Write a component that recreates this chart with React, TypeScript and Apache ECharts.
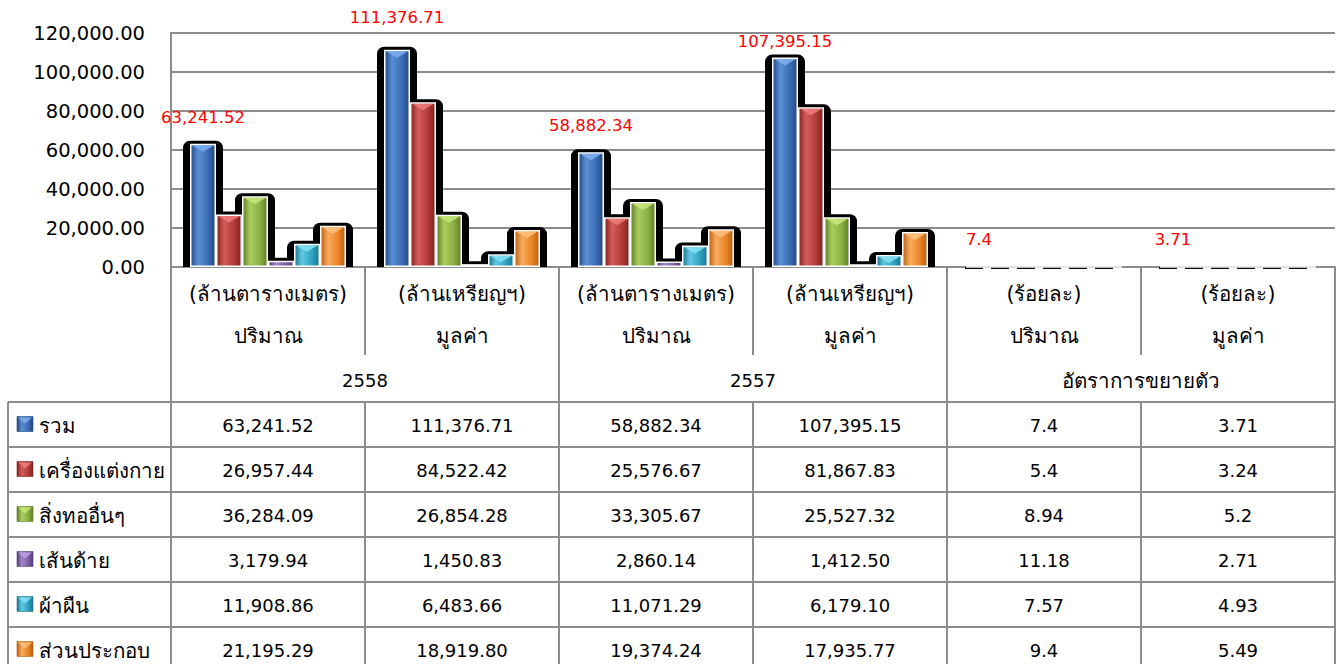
import React, { useEffect, useRef } from "react";
import * as echarts from "echarts";

const categories = ["ปริมาณ", "มูลค่า", "ปริมาณ", "มูลค่า", "ปริมาณ", "มูลค่า"];
const units = ["(ล้านตารางเมตร)", "(ล้านเหรียญฯ)", "(ล้านตารางเมตร)", "(ล้านเหรียญฯ)", "(ร้อยละ)", "(ร้อยละ)"];
const groups = ["2558", "2557", "อัตราการขยายตัว"];
const seriesNames = ["รวม", "เครื่องแต่งกาย", "สิ่งทออื่นๆ", "เส้นด้าย", "ผ้าผืน", "ส่วนประกอบ"];

const total = [63241.52, 111376.71, 58882.34, 107395.15, 7.4, 3.71];
const apparel = [26957.44, 84522.42, 25576.67, 81867.83, 5.4, 3.24];
const otherTextiles = [36284.09, 26854.28, 33305.67, 25527.32, 8.94, 5.2];
const yarn = [3179.94, 1450.83, 2860.14, 1412.5, 11.18, 2.71];
const fabric = [11908.86, 6483.66, 11071.29, 6179.1, 7.57, 4.93];
const parts = [21195.29, 18919.8, 19374.24, 17935.77, 9.4, 5.49];

const seriesValues = [total, apparel, otherTextiles, yarn, fabric, parts];

const yTicks = { min: 0, max: 120000, interval: 20000 };

const palette = [
  { dark: "#24497f", light: "#5a8fd6", base: "#3b6db4", tip: "#7fb0ee" },
  { dark: "#80211f", light: "#d45c5a", base: "#b23a38", tip: "#ee7d7b" },
  { dark: "#5f7d25", light: "#aacd5e", base: "#8aaf42", tip: "#c6e77c" },
  { dark: "#533b78", light: "#a187c8", base: "#7b5fa6", tip: "#bba3e2" },
  { dark: "#1b7690", light: "#62c9e2", base: "#2ea3c1", tip: "#86e2f5" },
  { dark: "#b9600f", light: "#f8ac5e", base: "#ea8526", tip: "#ffc27f" },
];

const FONT = 'Tahoma, "DejaVu Sans", "Noto Sans", sans-serif';
const LINE = "#8c8c8c";
const THAI_SIZE = 20.5;
const NUM_SIZE = 18;

const grad = (i: number, vertical = false) =>
  new echarts.graphic.LinearGradient(0, 0, vertical ? 0 : 1, vertical ? 1 : 0, [
    { offset: 0, color: palette[i].dark },
    { offset: 0.3, color: palette[i].light },
    { offset: 0.7, color: palette[i].base },
    { offset: 1, color: palette[i].dark },
  ]);

const fmt2 = (v: number) =>
  v.toLocaleString("en-US", { minimumFractionDigits: 2, maximumFractionDigits: 2 });
const fmtLabel = (v: number) => v.toLocaleString("en-US", { maximumFractionDigits: 2 });
const fmtCell = (v: number, c: number) => (c < 4 ? fmt2(v) : String(v));

// manual label nudges of the red "total" labels (as placed in the source chart)
const totalLabelOffsets = [[0, 0], [0, -6], [0, 0], [0, 10], [0, 0], [0, 0]];

// layout
const GRID_LEFT = 171;
const GRID_RIGHT_X = 1335;
const GRID_TOP = 33;
const AXIS_Y = 267;
const COL_W = (GRID_RIGHT_X - GRID_LEFT) / categories.length;
const TABLE_LEFT = 8;
const HEADER2_Y = 355;
const BODY_Y = 402;
const ROW_H = 45;
const BAR_W = 26;

function buildGraphics() {
  const els: any[] = [];
  const line = (x1: number, y1: number, x2: number, y2: number) =>
    els.push({
      type: "line",
      shape: { x1, y1, x2, y2 },
      style: { stroke: LINE, lineWidth: 2 },
      z: 10,
    });
  const bottom = BODY_Y + ROW_H * seriesNames.length;
  for (let c = 0; c <= categories.length; c++) {
    const x = GRID_LEFT + COL_W * c;
    line(x, AXIS_Y, x, HEADER2_Y);
  }
  for (let g = 0; g <= groups.length; g++) {
    const x = GRID_LEFT + COL_W * 2 * g;
    line(x, HEADER2_Y, x, BODY_Y);
  }
  line(TABLE_LEFT, BODY_Y, TABLE_LEFT, bottom);
  for (let c = 0; c <= categories.length; c++) {
    const x = GRID_LEFT + COL_W * c;
    line(x, BODY_Y, x, bottom);
  }
  for (let r = 0; r <= seriesNames.length; r++) {
    const y = BODY_Y + ROW_H * r;
    line(TABLE_LEFT, y, GRID_RIGHT_X, y);
  }
  groups.forEach((g, i) => {
    els.push({
      type: "text",
      x: GRID_LEFT + COL_W * (2 * i + 1),
      y: (HEADER2_Y + BODY_Y) / 2 + 2,
      style: {
        text: g,
        fill: "#000",
        font: `${/^\d+$/.test(g) ? NUM_SIZE : THAI_SIZE}px ${FONT}`,
        align: "center",
        verticalAlign: "middle",
      },
      z: 11,
    });
  });
  seriesNames.forEach((name, r) => {
    const cy = BODY_Y + ROW_H * r + ROW_H / 2;
    els.push({
      type: "rect",
      shape: { x: 17, y: cy - 8, width: 16, height: 15 },
      style: { fill: grad(r, false), stroke: palette[r].dark, lineWidth: 0.6 },
      z: 11,
    });
    els.push({
      type: "polygon",
      shape: { points: [[18, cy - 7], [32, cy - 7], [25, cy - 1]] },
      style: { fill: palette[r].tip, opacity: 0.85 },
      z: 12,
    });
    els.push({
      type: "text",
      x: 39,
      y: cy + 1,
      style: { text: name, fill: "#000", font: `${THAI_SIZE}px ${FONT}`, align: "left", verticalAlign: "middle" },
      z: 11,
    });
    seriesValues[r].forEach((v, c) => {
      els.push({
        type: "text",
        x: GRID_LEFT + COL_W * c + COL_W / 2,
        y: cy + 1,
        style: { text: fmtCell(v, c), fill: "#000", font: `${NUM_SIZE}px ${FONT}`, align: "center", verticalAlign: "middle" },
        z: 11,
      });
    });
  });
  return els;
}

export default function App() {
  const ref = useRef<HTMLDivElement>(null);
  useEffect(() => {
    if (!ref.current) return;
    const chart = echarts.init(ref.current, null, { renderer: "svg" });
    const n = seriesNames.length;
    const itemData: any[] = [];
    seriesValues.forEach((vals, s) => vals.forEach((v, c) => itemData.push([c, v, s])));

    const slotLeft = (api: any) => {
      const c = api.value(0);
      const s = api.value(2);
      const base = api.coord([c, 0]);
      const top = api.coord([c, api.value(1)]);
      return { left: base[0] - (BAR_W * n) / 2 + s * BAR_W, base: base[1], top: top[1], s };
    };

    const option: any = {
      animation: false,
      backgroundColor: "#fff",
      textStyle: { fontFamily: FONT },
      grid: {
        left: GRID_LEFT,
        right: 1337 - GRID_RIGHT_X,
        top: GRID_TOP,
        bottom: 664 - AXIS_Y,
        containLabel: false,
      },
      xAxis: {
        type: "category",
        data: categories,
        axisLine: { show: true, lineStyle: { color: LINE, width: 2 } },
        axisTick: { show: false },
        axisLabel: {
          interval: 0,
          margin: 6,
          color: "#000",
          fontSize: THAI_SIZE,
          fontFamily: FONT,
          lineHeight: 42,
          formatter: (_: string, i: number) => `${units[i]}\n${categories[i]}`,
        },
      },
      yAxis: {
        type: "value",
        min: yTicks.min,
        max: yTicks.max,
        interval: yTicks.interval,
        axisLine: { show: true, lineStyle: { color: LINE, width: 2 } },
        axisTick: { show: false },
        splitLine: { show: true, lineStyle: { color: LINE, width: 2 } },
        axisLabel: { color: "#000", fontSize: 19.5, fontFamily: FONT, margin: 26, formatter: (v: number) => fmt2(v) },
      },
      series: [
        {
          type: "custom",
          name: "shadow",
          z: 1,
          silent: true,
          encode: { x: 0, y: 1 },
          data: itemData,
          renderItem: (_: any, api: any) => {
            const { left, base, top } = slotLeft(api);
            const h = base - top;
            if (h < 1.5) {
              return {
                type: "rect",
                shape: { x: left - 1, y: base, width: 18, height: 2 },
                style: { fill: "#000" },
              };
            }
            const r = Math.min(7, (h + 3) / 2);
            return {
              type: "rect",
              shape: { x: left - 7, y: top - 3, width: BAR_W + 14, height: h + 3, r: [r, r, 0, 0] },
              style: { fill: "#000" },
            };
          },
        },
        ...seriesNames.map((name, i) => ({
          type: "bar",
          name,
          z: 2,
          barWidth: BAR_W,
          barGap: "0%",
          data: seriesValues[i].map((v, c) =>
            i === 0 ? { value: v, label: { offset: totalLabelOffsets[c] } } : v
          ),
          itemStyle: { color: grad(i), borderColor: "#ffffff", borderWidth: 1.5 },
          label:
            i === 0
              ? {
                  show: true,
                  position: "top",
                  distance: 18,
                  color: "#ff0000",
                  fontSize: 16.5,
                  fontFamily: FONT,
                  formatter: (p: any) => fmtLabel(p.value),
                }
              : { show: false },
        })),
        {
          type: "custom",
          name: "bevel",
          z: 3,
          silent: true,
          encode: { x: 0, y: 1 },
          data: itemData,
          renderItem: (_: any, api: any) => {
            const { left, base, top, s } = slotLeft(api);
            if (base - top < 10) return null;
            return {
              type: "polygon",
              shape: {
                points: [
                  [left + 2, top + 1.5],
                  [left + BAR_W - 2, top + 1.5],
                  [left + BAR_W / 2, top + 8],
                ],
              },
              style: { fill: palette[s].tip, opacity: 0.85 },
            };
          },
        },
      ],
      graphic: buildGraphics(),
    };
    chart.setOption(option);
    return () => chart.dispose();
  }, []);
  return (
    <div
      ref={ref}
      style={{ position: "fixed", left: 0, top: 0, width: 1337, height: 664, background: "#fff" }}
    />
  );
}
